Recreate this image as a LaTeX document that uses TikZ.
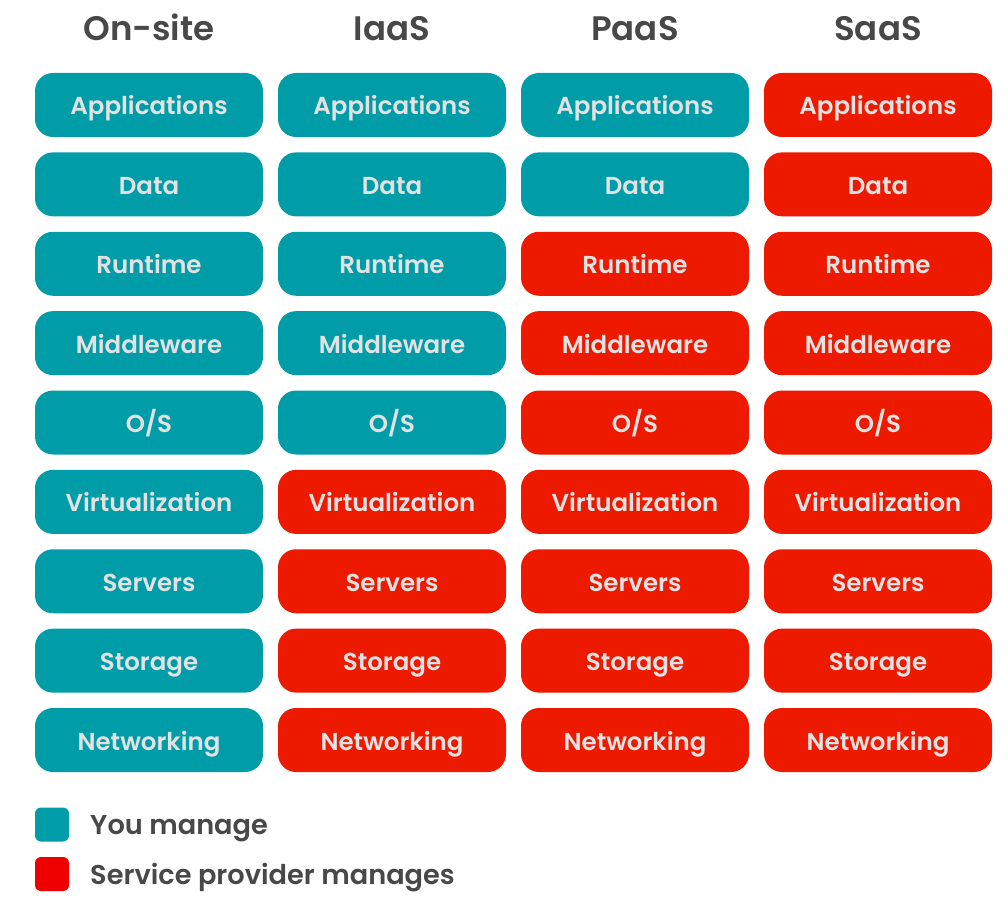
\documentclass[tikz,border=0pt]{standalone}
\usepackage{fontspec}
\setmainfont{Poppins}[BoldFont={Poppins SemiBold}]
\definecolor{teal1}{RGB}{0,156,168}
\definecolor{red1}{RGB}{238,26,0}
\definecolor{red2}{RGB}{238,0,0}
\definecolor{txt}{RGB}{226,226,226}
\definecolor{head}{RGB}{72,72,72}
\tikzset{
  cell/.style={rectangle, rounded corners=18pt, minimum width=228pt, minimum height=64pt, inner sep=0pt},
  lbl/.style={inner sep=0pt, text=txt, font=\bfseries\fontsize{24.5}{24.5}\selectfont, text height=17pt, text depth=0pt},
  you/.style={cell, fill=teal1},
  prov/.style={cell, fill=red1},
  hd/.style={text=head, font=\bfseries\fontsize{34}{34}\selectfont, inner sep=0pt, text height=25pt, text depth=0pt},
  lgbox/.style={rectangle, rounded corners=6pt, minimum width=34pt, minimum height=34pt, inner sep=0pt},
  lgtxt/.style={anchor=west, text=head, font=\bfseries\fontsize{27.2}{27.2}\selectfont, inner sep=0pt, text height=21pt, text depth=0pt}
}
\begin{document}
\begin{tikzpicture}[x=1pt,y=-1pt]
\useasboundingbox (0,0) rectangle (1008,904);
\def\cA{149}\def\cB{392}\def\cC{635}\def\cD{878}
\node[hd] (h1) at (\cA,28) {On-site};
\node[hd] (h2) at (\cB,28) {IaaS};
\node[hd] (h3) at (\cC,28) {PaaS};
\node[hd] (h4) at (\cD,28) {SaaS};
\foreach \lab [count=\i] in {Applications,Data,Runtime,Middleware,{O\kern0pt/\kern0pt S},Virtualization,Servers,Storage,Networking}{
  \pgfmathsetmacro{\yy}{105+(\i-1)*79.375}
  \node[you] (a\i) at (\cA,\yy) {};
  \ifnum\i<6 \node[you] (b\i) at (\cB,\yy) {};\else \node[prov] (b\i) at (\cB,\yy) {};\fi
  \ifnum\i<3 \node[you] (c\i) at (\cC,\yy) {};\else \node[prov] (c\i) at (\cC,\yy) {};\fi
  \node[prov] (d\i) at (\cD,\yy) {};
  \foreach \col in {a,b,c,d}{
    \node[lbl] (\col\i t) at ([yshift=-1.5pt]\col\i.center) {\lab};
  }
}
\node[lgbox, fill=teal1] (l1) at (52,824.5) {};
\node[lgbox, fill=red2] (l2) at (52,874) {};
\node[lgtxt] (t1) at (90,824) {You manage};
\node[lgtxt] (t2) at (90,874) {Service provider manages};
\end{tikzpicture}
\end{document}
